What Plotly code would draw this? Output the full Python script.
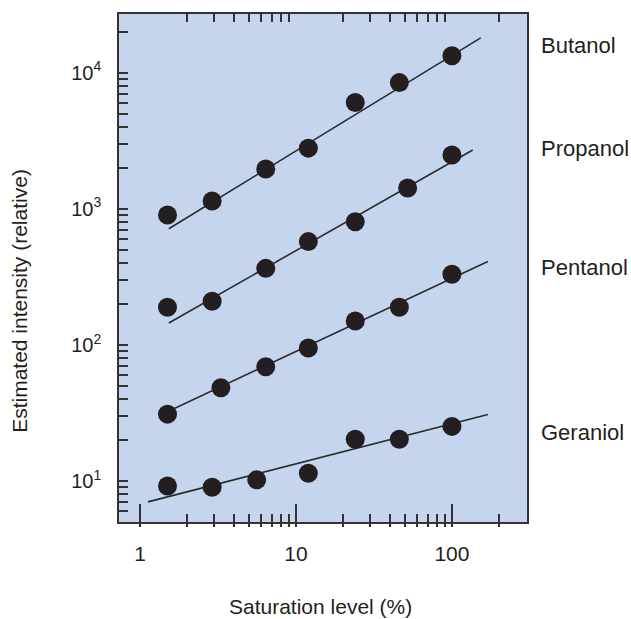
import plotly.graph_objects as go
import numpy as np

# ---- data ----
butanol_x = [1.5, 2.9, 6.4, 12, 24, 46, 100]
butanol_y = [900, 1140, 1960, 2790, 6040, 8450, 13300]
propanol_x = [1.5, 2.9, 6.4, 12, 24, 52, 100]
propanol_y = [189, 209, 365, 574, 803, 1420, 2480]
pentanol_x = [1.5, 3.3, 6.4, 12, 24, 46, 100]
pentanol_y = [31, 48.5, 69, 95, 150, 189, 330]
geraniol_x = [1.5, 2.9, 5.6, 12, 24, 46, 100]
geraniol_y = [9.2, 9.0, 10.2, 11.4, 20.3, 20.3, 25.2]

# fitted lines: endpoints
butanol_fit_x = [1.53, 153]
butanol_fit_y = [714, 18000]
propanol_fit_x = [1.53, 136]
propanol_fit_y = [145, 2700]
pentanol_fit_x = [1.51, 170]
pentanol_fit_y = [32.4, 410]
geraniol_fit_x = [1.125, 170]
geraniol_fit_y = [7.03, 30.8]

series_names = ["Butanol", "Propanol", "Pentanol", "Geraniol"]
label_y = [44, 147, 266, 432]  # pixel rows of right-side labels

x_major = [1, 10, 100]
x_major_text = ["1", "10", "100"]
x_minor = [2, 3, 4, 5, 6, 7, 8, 9, 20, 30, 40, 50, 60, 70, 80, 90, 200]
y_major = [10, 100, 1000, 10000]
y_major_text = ["10<sup>1</sup>", "10<sup>2</sup>", "10<sup>3</sup>", "10<sup>4</sup>"]
y_minor = [6, 7, 8, 9] + [m * 10 ** k for k in (1, 2, 3) for m in range(2, 10)] + [20000]

W, H = 631, 619
L, R, T, B = 119, 104, 12, 97
xr = [np.log10(0.733), np.log10(303)]
yr = [np.log10(5), 4.431]

DOT = "#231f20"
TXT = "#231f20"
FONT = "Liberation Sans, Arial, sans-serif"

fig = go.Figure()

fits = [(butanol_fit_x, butanol_fit_y), (propanol_fit_x, propanol_fit_y),
        (pentanol_fit_x, pentanol_fit_y), (geraniol_fit_x, geraniol_fit_y)]
pts = [(butanol_x, butanol_y), (propanol_x, propanol_y),
       (pentanol_x, pentanol_y), (geraniol_x, geraniol_y)]

for (fx, fy) in fits:
    fig.add_trace(go.Scatter(x=fx, y=fy, mode="lines",
                             line=dict(color="#2b2b2b", width=1.6),
                             showlegend=False, hoverinfo="skip"))
for (px, py) in pts:
    fig.add_trace(go.Scatter(x=px, y=py, mode="markers",
                             marker=dict(color=DOT, size=19, line=dict(width=0)),
                             showlegend=False))

# invisible traces to carry the overlay axes
fig.add_trace(go.Scatter(x=[10], y=[100], xaxis="x2", yaxis="y", mode="markers",
                         marker=dict(opacity=0), showlegend=False, hoverinfo="skip"))
fig.add_trace(go.Scatter(x=[10], y=[100], xaxis="x3", yaxis="y", mode="markers",
                         marker=dict(opacity=0), showlegend=False, hoverinfo="skip"))

axis_color = "#333333"

fig.update_layout(
    width=W, height=H, autosize=False,
    margin=dict(l=L, r=R, t=T, b=B),
    paper_bgcolor="white",
    plot_bgcolor="#c6d5ee",
    font=dict(family=FONT, color=TXT),
    xaxis=dict(type="log", range=xr, showgrid=False, zeroline=False,
               showline=True, linecolor=axis_color, linewidth=1.5, mirror=True,
               tickmode="array", tickvals=x_major, ticktext=x_major_text,
               ticks="inside", ticklen=18, tickwidth=1.5, tickcolor=axis_color,
               tickfont=dict(size=21, family=FONT, color=TXT),
               ticklabelstandoff=12,
               minor=dict(tickmode="array", tickvals=x_minor, ticks="inside",
                          ticklen=8, tickwidth=1.5, tickcolor=axis_color,
                          showgrid=False)),
    xaxis2=dict(type="log", range=xr, overlaying="x", side="top", anchor="y",
                showgrid=False, zeroline=False, showline=False,
                tickmode="array", tickvals=x_minor, ticks="inside", ticklen=8,
                tickwidth=1.5, tickcolor=axis_color, showticklabels=False),
    xaxis3=dict(type="log", range=xr, overlaying="x", side="bottom", anchor="y",
                showgrid=False, zeroline=False, showline=False,
                tickmode="array", tickvals=x_major + x_minor, ticks="outside",
                ticklen=4, tickwidth=1.5, tickcolor=axis_color,
                showticklabels=False),
    yaxis=dict(type="log", range=yr, showgrid=False, zeroline=False,
               showline=True, linecolor=axis_color, linewidth=1.5, mirror=True,
               tickmode="array", tickvals=y_major + y_minor,
               ticktext=y_major_text + [""] * len(y_minor),
               ticks="inside", ticklen=9, tickwidth=1.5, tickcolor=axis_color,
               tickfont=dict(size=20, family=FONT, color=TXT),
               ticklabelstandoff=12),
)

annotations = []
for name, yp in zip(series_names, label_y):
    annotations.append(dict(text=name, xref="paper", yref="paper",
                            x=(539 - L) / (W - L - R), y=1 - (yp - T) / (H - T - B),
                            xanchor="left", yanchor="middle", showarrow=False,
                            font=dict(size=22, family=FONT, color=TXT)))
annotations.append(dict(text="Saturation level (%)", xref="paper", yref="paper",
                        x=(320 - L) / (W - L - R), y=1 - (607 - T) / (H - T - B),
                        xanchor="center", yanchor="middle", showarrow=False,
                        font=dict(size=21, family=FONT, color=TXT)))
annotations.append(dict(text="Estimated intensity (relative)", xref="paper", yref="paper",
                        x=(20 - L) / (W - L - R), y=1 - (300 - T) / (H - T - B),
                        xanchor="center", yanchor="middle", showarrow=False, textangle=-90,
                        font=dict(size=21, family=FONT, color=TXT)))
fig.update_layout(annotations=annotations)

fig.write_html("out.html", config={"displayModeBar": False},
               post_script="document.body.style.margin='0px';")
